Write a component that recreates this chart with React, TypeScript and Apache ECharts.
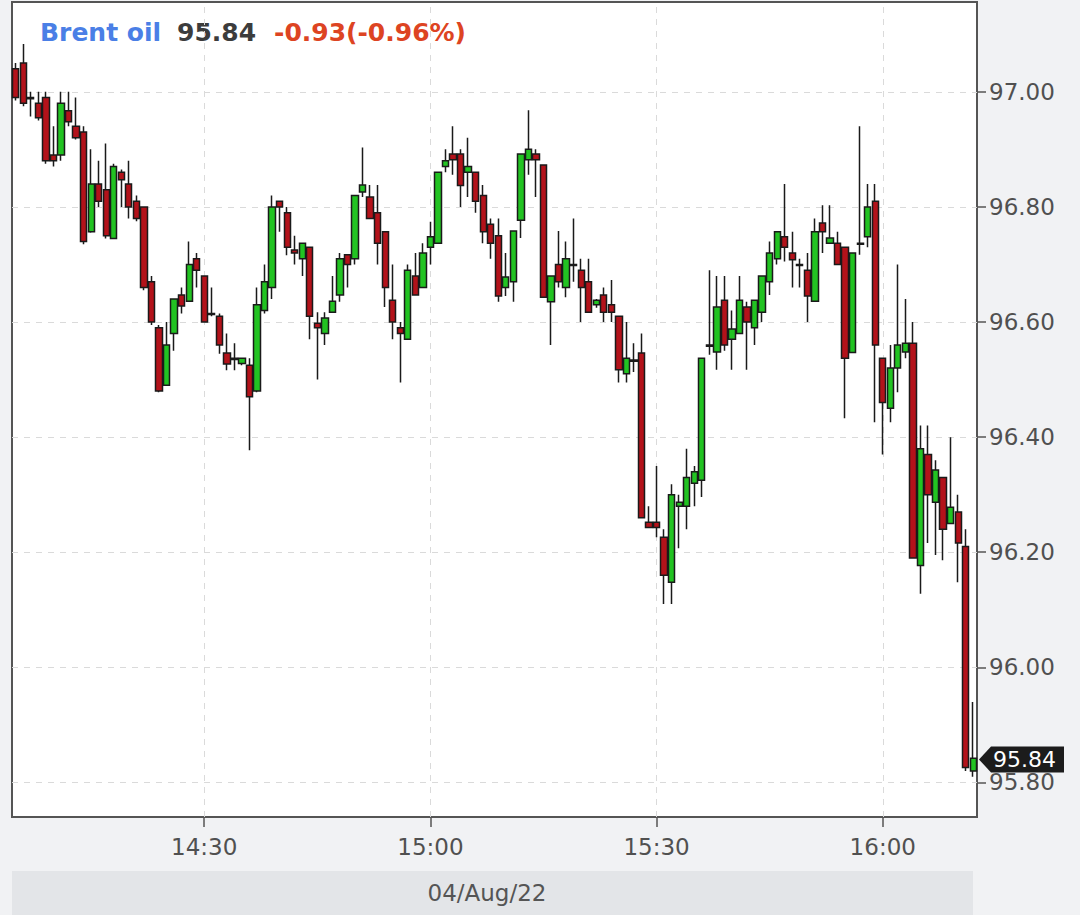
import { useEffect, useRef } from "react";
import * as echarts from "echarts";

// one-minute candles from 14:05, [open, close, low, high]
const START_MINUTE = 14 * 60 + 5;
const OHLC: number[][] = [
  [97.04, 96.99, 96.985, 97.05],
  [97.05, 96.98, 96.975, 97.083],
  [96.99, 96.988, 96.957, 97.0],
  [96.98, 96.955, 96.95, 97.0],
  [96.99, 96.88, 96.875, 97.0],
  [96.89, 96.88, 96.87, 96.94],
  [96.89, 96.98, 96.88, 97.0],
  [96.967, 96.948, 96.94, 97.0],
  [96.94, 96.92, 96.917, 96.99],
  [96.93, 96.74, 96.735, 96.94],
  [96.757, 96.84, 96.755, 96.9],
  [96.84, 96.81, 96.8, 96.88],
  [96.83, 96.75, 96.745, 96.91],
  [96.745, 96.87, 96.745, 96.875],
  [96.86, 96.847, 96.8, 96.865],
  [96.84, 96.8, 96.78, 96.88],
  [96.81, 96.78, 96.775, 96.82],
  [96.8, 96.66, 96.655, 96.8],
  [96.67, 96.6, 96.595, 96.68],
  [96.59, 96.48, 96.478, 96.595],
  [96.49, 96.56, 96.49, 96.6],
  [96.58, 96.64, 96.55, 96.64],
  [96.647, 96.628, 96.615, 96.66],
  [96.636, 96.7, 96.636, 96.74],
  [96.71, 96.69, 96.66, 96.72],
  [96.68, 96.6, 96.6, 96.68],
  [96.615, 96.613, 96.61, 96.66],
  [96.61, 96.56, 96.545, 96.615],
  [96.546, 96.527, 96.516, 96.58],
  [96.537, 96.535, 96.516, 96.563],
  [96.528, 96.537, 96.525, 96.537],
  [96.525, 96.47, 96.377, 96.537],
  [96.48, 96.63, 96.478, 96.66],
  [96.62, 96.67, 96.615, 96.7],
  [96.66, 96.8, 96.64, 96.82],
  [96.81, 96.8, 96.757, 96.81],
  [96.79, 96.73, 96.716, 96.8],
  [96.725, 96.72, 96.7, 96.75],
  [96.71, 96.737, 96.68, 96.737],
  [96.73, 96.61, 96.57, 96.73],
  [96.598, 96.59, 96.5, 96.617],
  [96.58, 96.607, 96.56, 96.617],
  [96.617, 96.636, 96.617, 96.68],
  [96.647, 96.71, 96.635, 96.72],
  [96.717, 96.7, 96.66, 96.717],
  [96.71, 96.82, 96.7, 96.82],
  [96.826, 96.838, 96.817, 96.903],
  [96.817, 96.78, 96.78, 96.838],
  [96.79, 96.737, 96.7, 96.838],
  [96.757, 96.66, 96.626, 96.757],
  [96.638, 96.6, 96.57, 96.7],
  [96.59, 96.58, 96.495, 96.6],
  [96.57, 96.69, 96.57, 96.7],
  [96.68, 96.647, 96.647, 96.72],
  [96.66, 96.72, 96.66, 96.737],
  [96.73, 96.748, 96.7, 96.774],
  [96.737, 96.86, 96.737, 96.86],
  [96.87, 96.88, 96.86, 96.9],
  [96.892, 96.882, 96.856, 96.94],
  [96.892, 96.837, 96.8, 96.9],
  [96.86, 96.87, 96.817, 96.92],
  [96.86, 96.81, 96.79, 96.86],
  [96.82, 96.757, 96.737, 96.838],
  [96.77, 96.737, 96.71, 96.78],
  [96.75, 96.645, 96.635, 96.78],
  [96.66, 96.678, 96.645, 96.72],
  [96.67, 96.758, 96.635, 96.758],
  [96.777, 96.892, 96.746, 96.892],
  [96.882, 96.9, 96.856, 96.968],
  [96.892, 96.882, 96.817, 96.9],
  [96.873, 96.643, 96.643, 96.873],
  [96.635, 96.68, 96.56, 96.68],
  [96.7, 96.67, 96.66, 96.758],
  [96.66, 96.71, 96.643, 96.74],
  [96.7, 96.698, 96.67, 96.78],
  [96.69, 96.66, 96.6, 96.71],
  [96.67, 96.617, 96.617, 96.71],
  [96.63, 96.638, 96.625, 96.64],
  [96.647, 96.617, 96.6, 96.66],
  [96.63, 96.617, 96.6, 96.673],
  [96.61, 96.517, 96.495, 96.61],
  [96.51, 96.537, 96.495, 96.6],
  [96.534, 96.532, 96.513, 96.563],
  [96.546, 96.26, 96.26, 96.58],
  [96.252, 96.243, 96.243, 96.28],
  [96.252, 96.243, 96.226, 96.35],
  [96.226, 96.16, 96.11, 96.24],
  [96.148, 96.3, 96.11, 96.318],
  [96.28, 96.287, 96.207, 96.3],
  [96.28, 96.33, 96.24, 96.38],
  [96.32, 96.34, 96.28, 96.35],
  [96.325, 96.537, 96.296, 96.537],
  [96.56, 96.558, 96.543, 96.69],
  [96.548, 96.626, 96.517, 96.68],
  [96.638, 96.56, 96.55, 96.68],
  [96.57, 96.588, 96.517, 96.62],
  [96.58, 96.638, 96.58, 96.68],
  [96.626, 96.6, 96.517, 96.635],
  [96.59, 96.638, 96.56, 96.638],
  [96.617, 96.68, 96.6, 96.68],
  [96.67, 96.72, 96.647, 96.74],
  [96.71, 96.757, 96.7, 96.757],
  [96.748, 96.73, 96.705, 96.84],
  [96.72, 96.708, 96.66, 96.757],
  [96.7, 96.698, 96.66, 96.71],
  [96.69, 96.645, 96.6, 96.72],
  [96.636, 96.757, 96.636, 96.78],
  [96.772, 96.757, 96.72, 96.803],
  [96.737, 96.746, 96.737, 96.803],
  [96.737, 96.7, 96.7, 96.757],
  [96.73, 96.537, 96.433, 96.73],
  [96.547, 96.72, 96.547, 96.72],
  [96.737, 96.735, 96.717, 96.94],
  [96.748, 96.8, 96.73, 96.84],
  [96.81, 96.56, 96.426, 96.84],
  [96.537, 96.46, 96.37, 96.537],
  [96.45, 96.52, 96.426, 96.56],
  [96.52, 96.56, 96.478, 96.7],
  [96.548, 96.563, 96.537, 96.64],
  [96.563, 96.19, 96.19, 96.6],
  [96.177, 96.38, 96.128, 96.42],
  [96.37, 96.3, 96.216, 96.42],
  [96.287, 96.343, 96.195, 96.36],
  [96.33, 96.24, 96.186, 96.33],
  [96.25, 96.278, 96.25, 96.4],
  [96.27, 96.216, 96.148, 96.3],
  [96.21, 95.826, 95.82, 96.24],
  [95.82, 95.842, 95.81, 95.94],
];

const TIMES = OHLC.map((_, i) => {
  const m = START_MINUTE + i;
  return `${Math.floor(m / 60)}:${String(m % 60).padStart(2, "0")}`;
});
const TIME_TICKS = ["14:30", "15:00", "15:30", "16:00"];
const PRICE_TICKS = [95.8, 96.0, 96.2, 96.4, 96.6, 96.8, 97.0];
const Y_MIN = 95.74;
const Y_MAX = 97.156;

const NAME = "Brent oil";
const LAST = 95.84;
const CHANGE = "-0.93(-0.96%)";
const DATE_LABEL = "04/Aug/22";

const FONT = '"DejaVu Sans", sans-serif';

const App = () => {
  const chartRef = useRef<HTMLDivElement>(null);

  useEffect(() => {
    if (!chartRef.current) return;
    const chart = echarts.init(chartRef.current, undefined, { renderer: "svg" });

    const isTick = (_: number, v: string) => TIME_TICKS.includes(v);

    chart.setOption({
      animation: false,
      backgroundColor: "#f1f2f4",
      textStyle: { fontFamily: FONT },
      grid: {
        left: 12,
        top: 2,
        width: 965,
        height: 815,
        show: true,
        backgroundColor: "#fff",
        borderColor: "#555",
        borderWidth: 2,
      },
      xAxis: {
        type: "category",
        data: TIMES,
        boundaryGap: true,
        axisLine: { show: false },
        axisTick: {
          show: true,
          alignWithLabel: true,
          length: 10,
          interval: isTick,
          lineStyle: { color: "#555", width: 1.5 },
        },
        axisLabel: {
          interval: isTick,
          fontFamily: FONT,
          fontSize: 23,
          color: "#505050",
          margin: 18,
        },
        splitLine: { show: false },
      },
      yAxis: {
        type: "value",
        position: "right",
        min: Y_MIN,
        max: Y_MAX,
        axisLine: { show: false },
        axisTick: {
          show: true,
          length: 9,
          customValues: PRICE_TICKS,
          lineStyle: { color: "#555", width: 1.5 },
        },
        axisLabel: {
          customValues: PRICE_TICKS,
          formatter: (v: number) => v.toFixed(2),
          fontFamily: FONT,
          fontSize: 23,
          color: "#505050",
          margin: 12,
        },
        splitLine: { show: false },
      },
      series: [
        {
          type: "candlestick",
          data: OHLC,
          barWidth: "90%",
          itemStyle: {
            color: "#22c322",
            color0: "#b3121a",
            borderColor: "#1a1a1a",
            borderColor0: "#1a1a1a",
            borderWidth: 1.5,
          },
          markLine: {
            silent: true,
            symbol: "none",
            z: 1,
            label: { show: false },
            lineStyle: { type: [6, 6], color: "#dadada", width: 1 },
            data: [
              ...PRICE_TICKS.map((v) => ({ yAxis: v })),
              ...TIME_TICKS.map((t) => ({ xAxis: t })),
            ],
          },
        },
      ],
      graphic: [
        {
          type: "text",
          id: "name",
          x: 40,
          y: 32,
          style: { text: NAME, font: `bold 25px ${FONT}`, fill: "#4a7fe6", verticalAlign: "middle" },
        },
        {
          type: "text",
          id: "last",
          x: 177,
          y: 32,
          style: { text: LAST.toFixed(2), font: `bold 25px ${FONT}`, fill: "#3c3c3c", verticalAlign: "middle" },
        },
        {
          type: "text",
          id: "change",
          x: 274,
          y: 32,
          style: { text: CHANGE, font: `bold 25px ${FONT}`, fill: "#dd4422", verticalAlign: "middle" },
        },
        {
          type: "rect",
          id: "band",
          shape: { x: 12, y: 871, width: 961, height: 44 },
          style: { fill: "#e3e5e8" },
        },
        {
          type: "text",
          id: "date",
          x: 487,
          y: 893,
          style: { text: DATE_LABEL, font: `23px ${FONT}`, fill: "#555", align: "center", verticalAlign: "middle" },
        },
      ],
    });

    const yp = chart.convertToPixel({ yAxisIndex: 0 }, LAST) as number;
    chart.setOption({
      graphic: [
        {
          type: "polygon",
          id: "lastBox",
          z: 100,
          shape: {
            points: [
              [979, yp],
              [991, yp - 13],
              [1064, yp - 13],
              [1064, yp + 13],
              [991, yp + 13],
            ],
          },
          style: { fill: "#1c1c1c" },
        },
        {
          type: "text",
          id: "lastText",
          z: 101,
          x: 993,
          y: yp,
          style: { text: LAST.toFixed(2), font: `22px ${FONT}`, fill: "#fff", verticalAlign: "middle" },
        },
      ],
    });

    return () => {
      chart.dispose();
    };
  }, []);

  return (
    <div
      ref={chartRef}
      style={{ position: "fixed", left: 0, top: 0, width: 1080, height: 915 }}
    />
  );
};

export default App;
